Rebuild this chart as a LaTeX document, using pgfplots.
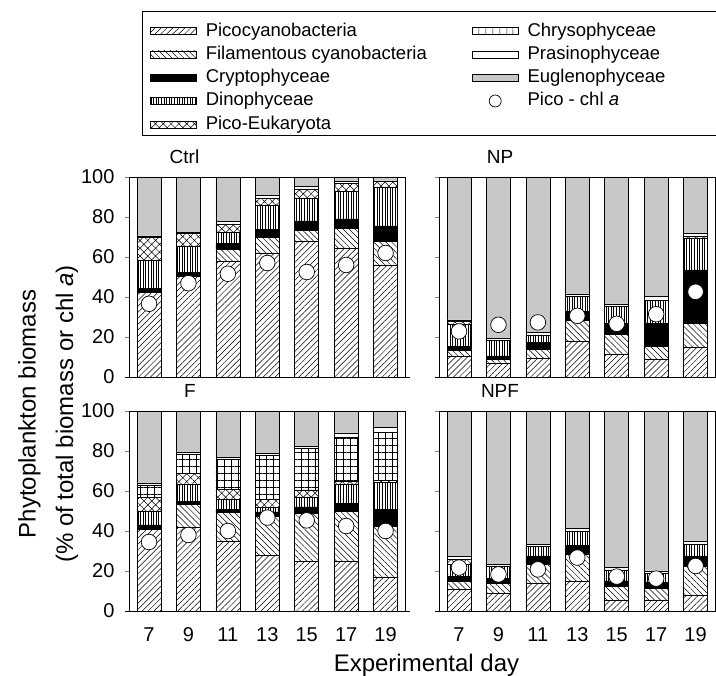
\documentclass[border=0pt]{standalone}
\usepackage{fontspec}
\setmainfont{Liberation Sans}
\usepackage{pgfplots}
\pgfplotsset{compat=1.18}
\usepackage{pgfplotstable}
\usetikzlibrary{patterns.meta}

\definecolor{euglc}{RGB}{200,200,200}

\newcommand{\tickfont}{\fontsize{20}{20}\selectfont}
\newcommand{\titfont}{\fontsize{19}{19}\selectfont}
\newcommand{\legfont}{\fontsize{18.5}{18.5}\selectfont}
\newcommand{\labfont}{\fontsize{24}{24}\selectfont}

\tikzset{
  picoP/.style={pattern={Lines[angle=45,distance=4.2pt,line width=0.5pt]}, pattern color=black},
  filP/.style={pattern={Lines[angle=-45,distance=4.2pt,line width=0.5pt]}, pattern color=black},
  cryP/.style={fill=black},
  dinoP/.style={pattern={Lines[angle=90,distance=2.6pt,line width=0.5pt]}, pattern color=black},
  peukP/.style={pattern={Hatch[angle=45,distance=5.5pt,line width=0.5pt]}, pattern color=black},
  chryP/.style={pattern={Hatch[angle=0,distance=7pt,line width=0.5pt]}, pattern color=black},
  chryL/.style={pattern={Lines[angle=90,distance=6.5pt,line width=0.5pt]}, pattern color=black},
  prasP/.style={fill=white},
  euglP/.style={fill=euglc},
}

\pgfplotstableread{
day pico fil cry dino peuk chry pras eugl chl
7  42.2 0    2.1 14.2 11.3 0 0.7 29.5 36.6
9  50.5 0    1.7 13.3 6.3  0 0.4 27.8 46.9
11 58.0 6.0  2.8 5.4  4.3  0 1.2 22.3 51.6
13 62.0 7.8  4.0 12.2 3.2  0 1.5 9.3  57.0
15 68.0 5.5  4.5 11.2 4.8  0 1.2 4.8  52.5
17 64.3 10.0 4.7 13.7 4.1  0 0.9 2.3  56.0
19 56.0 12.0 7.5 19.5 2.7  0 0.3 2.0  62.0
}\ctrl

\pgfplotstableread{
day pico fil cry dino peuk chry pras eugl chl
7  10.2 3.3  1.7  11.0 1.5 0 0.8 71.5 22.8
9  6.8  2.0  1.7  7.7  0   0 1.1 80.7 26.1
11 9.3  4.5  3.4  3.8  0   0 1.2 77.8 27.3
13 17.7 10.8 4.2  7.5  0   0 1.3 58.5 30.6
15 11.5 10.0 5.3  8.4  0   0 1.3 63.5 26.6
17 9.0  6.2  11.6 11.4 0   0 2.0 59.8 31.4
19 15.0 12.0 26.5 16.0 0.8 0 1.7 28.0 42.6
}\np

\pgfplotstableread{
day pico fil cry dino peuk chry pras eugl chl
7  40.8 0    2.2 7.0  7.0 6.0  1.0 36.0 34.5
9  42.0 11.3 1.4 8.6  5.4 9.6  1.2 20.5 38.0
11 35.0 14.2 1.6 5.0  5.0 15.0 0.9 23.3 40.0
13 27.8 19.7 2.0 2.2  4.1 22.0 0.9 21.3 46.7
15 25.0 23.8 3.2 5.0  3.5 20.8 1.2 17.5 45.3
17 25.0 25.0 3.8 9.5  1.7 21.7 2.3 11.0 42.5
19 17.0 25.5 8.3 13.4 1.0 24.0 2.5 8.3  40.0
}\fert

\pgfplotstableread{
day pico fil cry dino peuk chry pras eugl chl
7  10.8 4.2  2.2 6.0 2.6 0 1.4 72.8 21.7
9  9.0  4.8  2.4 6.3 0   0 0.8 76.7 18.3
11 14.0 9.3  4.2 4.7 0   0 1.1 66.7 20.8
13 15.0 13.3 4.5 7.2 0   0 1.2 58.8 26.7
15 5.5  7.0  2.5 5.5 0   0 1.2 78.3 17.2
17 5.5  5.8  2.9 4.6 0   0 1.2 80.0 16.2
19 8.0  14.5 5.0 6.0 0   0 1.5 65.0 22.5
}\npf

\pgfplotsset{
  frameax/.style={
    scale only axis, width=276pt, height=200pt,
    xmin=6, xmax=20, ymin=0, ymax=100,
  },
  hidax/.style={frameax, hide axis, anchor=south west},
  mainax/.style={
    frameax, anchor=south west,
    ybar stacked, bar width=24pt,
    axis on top,
    axis line style={line width=0.8pt},
    xtick={7,9,...,19}, ytick={0,20,...,100},
    xtick style={draw=none},
    ytick pos=left,
    tick align=outside,
    ytick style={line width=0.8pt},
    major tick length=4.3pt,
    tick label style={font=\tickfont},
    xticklabel style={text height=14.5pt, text depth=0pt, yshift=-8pt},
    yticklabel style={xshift=-7pt},
    /pgf/number format/assume math mode=true,
    title style={anchor=base, yshift=7pt, font=\titfont},
    after end axis/.code={\draw[line width=0.8pt] ([xshift=-4.3pt]rel axis cs:0,0) -- ([xshift=5pt]rel axis cs:1,0);},
  },
  segs/.style={draw=black, line width=0.7pt},
}

\newcommand{\panel}[6]{%
  \begin{axis}[hidax, at={(#1,#2)}]
    \addplot[ybar, bar width=15.43pt, bar shift=0pt, fill=white, draw=black, line width=0.7pt]
      coordinates {(6,100) (8,100) (10,100) (12,100) (14,100) (16,100) (18,100) (20,100)};
  \end{axis}
  \begin{axis}[mainax, at={(#1,#2)}, title={#4}, title style={at={(#5,1)}}, #6]
    \addplot[segs, picoP] table[x=day, y=pico] {#3};
    \addplot[segs, filP]  table[x=day, y=fil]  {#3};
    \addplot[segs, cryP]  table[x=day, y=cry]  {#3};
    \addplot[segs, dinoP] table[x=day, y=dino] {#3};
    \addplot[segs, peukP] table[x=day, y=peuk] {#3};
    \addplot[segs, chryP] table[x=day, y=chry] {#3};
    \addplot[segs, prasP] table[x=day, y=pras] {#3};
    \addplot[segs, euglP] table[x=day, y=eugl] {#3};
  \end{axis}
  \begin{axis}[hidax, at={(#1,#2)}, clip=false]
    \addplot[only marks, mark=*, mark size=7.8pt, mark options={fill=white, draw=black, line width=0.7pt}]
      table[x=day, y=chl] {#3};
  \end{axis}
}

\begin{document}
\begin{tikzpicture}
\useasboundingbox (0pt,0pt) rectangle (716pt,676pt);

\panel{129.3pt}{299pt}{\ctrl}{Ctrl}{0.2}{xticklabels={}}
\panel{439.3pt}{299pt}{\np}{NP}{0.22}{xticklabels={}, yticklabels={}}
\panel{129.3pt}{65pt}{\fert}{F}{0.22}{}
\panel{439.3pt}{65pt}{\npf}{NPF}{0.22}{yticklabels={}}

\node[rotate=90, font=\labfont] at (29.5pt,262pt) {Phytoplankton biomass};
\node[rotate=90, font=\labfont] at (67pt,262pt) {(\% of total biomass or chl \textit{a})};
\node[font=\labfont, anchor=base] at (426.5pt,4pt) {Experimental day};

\begin{axis}[hide axis, scale only axis, width=1pt, height=1pt,
  xmin=0, xmax=1, ymin=0, ymax=1,
  at={(141.7pt,665pt)}, anchor=south west,
  legend columns=5, transpose legend, legend cell align=left,
  legend style={at={(0,0)}, anchor=north west, draw=black, line width=0.8pt,
    font=\legfont, inner xsep=8pt, inner ysep=4.7pt,
    nodes={inner sep=0pt, text height=20pt, text depth=1pt},
    row sep=2.3pt,
    /tikz/every odd column/.append style={column sep=9pt},
    /tikz/every even column/.append style={column sep=45pt},
  }]
\addlegendimage{legend image code/.code={\draw[line width=0.7pt, picoP] (0pt,-8pt) rectangle (46pt,-1pt);}}
\addlegendentry{Picocyanobacteria}
\addlegendimage{legend image code/.code={\draw[line width=0.7pt, filP] (0pt,-8pt) rectangle (46pt,-1pt);}}
\addlegendentry{Filamentous cyanobacteria}
\addlegendimage{legend image code/.code={\draw[line width=0.7pt, cryP] (0pt,-8pt) rectangle (46pt,-1pt);}}
\addlegendentry{Cryptophyceae}
\addlegendimage{legend image code/.code={\draw[line width=0.7pt, dinoP] (0pt,-8pt) rectangle (46pt,-1pt);}}
\addlegendentry{Dinophyceae}
\addlegendimage{legend image code/.code={\draw[line width=0.7pt, peukP] (0pt,-8pt) rectangle (46pt,-1pt);}}
\addlegendentry{Pico-Eukaryota}
\addlegendimage{legend image code/.code={\draw[line width=0.7pt, chryL] (0pt,-8pt) rectangle (46pt,-1pt);}}
\addlegendentry{\makebox[184pt][l]{Chrysophyceae}}
\addlegendimage{legend image code/.code={\draw[line width=0.7pt, prasP] (0pt,-8pt) rectangle (46pt,-1pt);}}
\addlegendentry{Prasinophyceae}
\addlegendimage{legend image code/.code={\draw[line width=0.7pt, euglP] (0pt,-8pt) rectangle (46pt,-1pt);}}
\addlegendentry{Euglenophyceae}
\addlegendimage{legend image code/.code={\draw[line width=0.7pt, fill=white] (23pt,-4.5pt) circle (6pt);}}
\addlegendentry{Pico - chl \textit{a}}
\end{axis}
\end{tikzpicture}
\end{document}
